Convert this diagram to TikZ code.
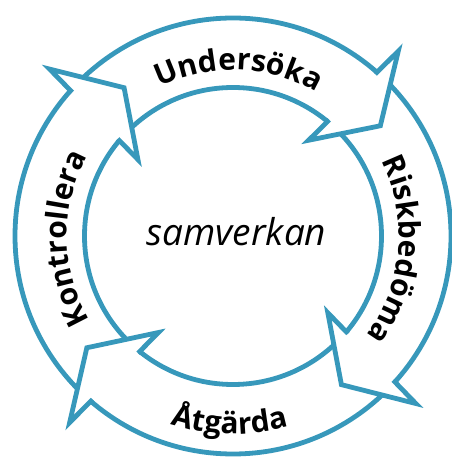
\documentclass[tikz,border=0pt]{standalone}
\usepackage{fontspec}
\newfontfamily\lblfont{Open Sans}
\usetikzlibrary{decorations.text,calc}
\definecolor{ringblue}{RGB}{55,152,187}
\newcommand\lblfmt{\lblfont\bfseries\fontsize{30}{36}\selectfont}
\tikzset{
  ring/.style={draw=ringblue, line width=4.8pt},
  headline/.style={draw=ringblue, line width=4.8pt, line join=miter, miter limit=12},
  curvedlabel/.style={decorate, decoration={text along path, text={|\lblfmt|#1}, text align=center}}
}
\newcommand\ringhead[2]{%
  \coordinate (O#2) at ({#1-1.5}:248);
  \coordinate (T#2) at ({#1-12.9}:184);
  \coordinate (I#2) at ({#1+2}:122);
  \fill[white] (O#2)--(T#2)--(I#2)--cycle;
  \draw[headline] ($(O#2)!0.257!(I#2)$)--(O#2)--(T#2)--(I#2)--($(O#2)!0.771!(I#2)$);
}
\begin{document}
\begin{tikzpicture}[x=1pt,y=1pt]
\useasboundingbox (0,0) rectangle (451,457);
\begin{scope}[shift={(233,221)}]
  \draw[ring] (0,0) circle[radius=218];
  \draw[ring] (0,0) circle[radius=148.5];
  \ringhead{49.7}{a}
  \ringhead{-41}{b}
  \ringhead{230.3}{c}
  \ringhead{139.2}{d}
  \path[curvedlabel={Undersöka}] (148:166) arc[start angle=148, end angle=28, radius=166];
  \path[curvedlabel={Riskbedöma}] (55:166) arc[start angle=55, end angle=-65, radius=166];
  \path[curvedlabel={Kontrollera}] (241:166) arc[start angle=241, end angle=121, radius=166];
  \path[curvedlabel={Åtgärda}] (-151:198) arc[start angle=-151, end angle=-31, radius=198];
  \node[anchor=base] (center) at (3.5,-10) {\lblfont\itshape\fontsize{37}{44}\selectfont samverkan};
\end{scope}
\end{tikzpicture}
\end{document}
